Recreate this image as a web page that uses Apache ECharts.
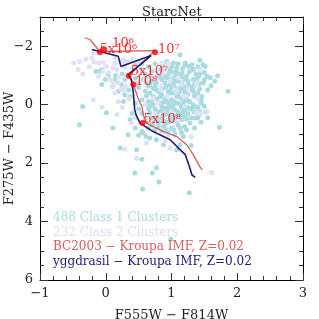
<!DOCTYPE html>
<html><head><meta charset="utf-8">
<script src="https://cdn.jsdelivr.net/npm/echarts@6/dist/echarts.min.js"></script>
<style>html,body{margin:0;padding:0;background:#fff}#c{width:319px;height:319px}</style>
</head><body><div id="c"></div>
<script>
const titleText = 'StarcNet';
const xName = 'F555W \u2212 F814W';
const yName = 'F275W \u2212 F435W';
const xMajor = [-1, 0, 1, 2, 3];
const xMinor = [-0.8,-0.6,-0.4,-0.2,0.2,0.4,0.6,0.8,1.2,1.4,1.6,1.8,2.2,2.4,2.6,2.8];
const yMajor = [-2, 0, 2, 4, 6];
const yMinor = [-2.5,-1.5,-1,-0.5,0.5,1,1.5,2.5,3,3.5,4.5,5,5.5];
const legendTexts = ['488 Class 1 Clusters','232 Class 2 Clusters','BC2003 \u2212 Kroupa IMF, Z=0.02','yggdrasil \u2212 Kroupa IMF, Z=0.02'];

const class1 = [
[-0.09,-1.14],[-0.01,-0.86],[0.04,-1.03],[0.14,-0.86],[0.11,-0.63],[-0.06,-0.69],[0.29,-0.86],[0.24,-0.69],[0.19,-0.46],[0.29,-0.34],
[0.27,-0.11],[0.37,-0.28],[0.55,-1.14],[0.57,-0.86],[0.62,-0.97],[0.67,-0.69],[0.60,-0.46],[0.72,-0.28],[0.77,-0.51],[0.65,-0.11],
[1.13,-1.71],[1.43,-1.52],[1.48,-1.37],[1.21,-1.43],[1.26,-1.31],[1.31,-1.20],[0.93,-1.48],[1.03,-1.43],[1.08,-1.26],[0.98,-1.20],
[1.16,-1.09],[1.43,-1.03],[1.59,-0.92],[1.70,-0.99],[1.66,-0.80],[1.48,-0.74],[1.43,-0.54],[1.33,-0.86],[1.26,-0.69],[1.33,-0.46],
[1.21,-0.40],[1.13,-0.57],[1.03,-0.74],[0.93,-0.92],[0.88,-0.57],[0.98,-0.40],[1.08,-0.28],[1.23,-0.17],[1.28,-0.11],[0.93,-0.11],
[1.86,-0.46],[0.88,-1.20],[1.05,-0.97],[1.21,-0.88],[1.16,-0.74],[1.54,-0.97],[1.31,-1.37],
[1.21,-1.37],[1.33,-1.20],[1.51,-1.31],[1.03,-1.09],[1.23,-0.97],[1.38,-0.86],[0.83,-1.20],[0.90,-0.97],[0.77,-0.74],[0.98,-0.69],
[1.16,-0.57],[1.31,-0.51],[1.46,-0.28],[0.67,-0.40],[0.83,-0.28],[1.00,-0.17],[1.18,-0.06],[1.33,0.00],[0.72,0.00],[0.90,0.11],
[0.55,-0.17],[0.65,-0.63],
[0.11,0.80],[0.34,1.03],[0.62,0.00],[0.83,-0.06],[0.93,0.17],[1.03,0.00],[1.16,0.11],[1.26,-0.11],[1.33,0.06],[0.67,0.28],
[0.77,0.40],[0.90,0.34],[1.03,0.40],[1.16,0.51],[1.28,0.63],[1.43,0.34],[0.72,0.63],[0.88,0.74],[1.00,0.80],[1.23,0.86],
[0.77,1.20],[0.88,1.37],[0.22,1.48],[0.47,1.54],[0.55,1.87],[0.77,2.16],[0.57,0.97],[0.37,0.51],[1.13,1.37],
[-0.35,0.06],[0.01,0.28],[-0.40,0.69],[0.44,2.34],[0.71,2.34],[0.55,0.92],[0.61,1.09],[0.67,1.14],
[0.81,2.65],[0.56,2.89],[1.27,3.01],[1.73,0.77],[1.43,0.28],
[0.93,0.11],[1.05,0.17],[1.17,0.28],[1.36,0.06],[1.43,0.23],[1.52,0.25],[1.23,0.48],[1.36,0.46],[1.08,0.57],[1.13,0.80],
[1.03,0.86],[1.18,1.09],[1.30,1.40],[1.08,1.54],[0.99,4.60],[-0.15,-1.14],[-0.06,-1.20],
[1.10,-1.05],[1.20,-0.60],[1.35,-0.70],[1.00,-0.55],[0.80,-0.45],[0.70,-0.80],[1.40,-0.40],[1.10,-0.30],[0.95,-0.05],[1.15,0.05],
[1.25,0.30],[0.85,0.45],[0.95,0.60],[1.10,0.70],[0.65,0.15],[0.80,0.25],[1.05,0.45],[0.75,0.85],[0.50,-0.60],[0.45,-0.90],
[0.45,-1.35],[0.55,-1.40],[0.65,-1.30],[0.75,-1.40],[0.70,-1.15],[0.60,-1.05],[0.80,-1.00],[0.85,-0.85],[0.75,-0.65],[0.62,-0.30],
[0.70,-0.10],[0.85,0.05],[1.00,0.10],[1.10,0.25],[1.20,0.20],[1.30,0.15],[1.40,0.10],[1.50,0.05],[1.45,-0.15],[1.55,-0.50],
[1.60,-0.65],[1.50,-1.10],[1.40,-1.30],[1.00,-1.30],[1.10,-1.40],[0.95,-1.00],[1.05,-0.85],[1.25,-0.80],[1.40,-0.95],[1.15,-0.95],
[1.10,-0.80],[1.00,-0.90],[0.90,-0.75],[0.85,-0.35],[0.95,-0.45],[1.05,-0.60],[1.20,-0.45],[1.35,-0.30],[1.25,-0.35],[1.15,-0.20],
[1.05,-0.10],[0.90,-0.20],[0.75,0.15],[0.85,0.20],[0.95,0.30],[1.15,0.35],[1.30,0.45],[1.00,0.55],[0.90,0.65],[0.80,0.60],
[0.70,0.45],[0.85,0.90],[0.95,0.95],[1.05,1.00],[0.65,0.80],[0.60,0.50],[0.55,0.30],[1.20,0.75],[1.35,0.80],[1.45,0.60],
[1.55,0.45],[0.50,0.15],[0.45,-0.05],
[0.62,-0.75],[0.72,-0.55],[0.82,-0.95],[0.92,-0.62],[1.02,-0.40],[1.12,-0.45],[1.22,-0.25],[1.32,-0.60],[1.42,-0.72],[1.50,-0.85],
[1.37,-1.05],[1.27,-1.12],[1.17,-1.25],[1.07,-1.15],[0.97,-1.10],[0.87,-1.35],[1.45,-0.05],[1.35,0.25],[1.25,0.10],[1.10,-0.05],
[0.98,0.00],[0.88,-0.10],[0.78,-0.20],[0.68,0.05],[0.78,0.50],[0.88,0.55],[0.98,0.45],[1.08,0.35],[1.20,0.40],[1.40,0.45],
[0.70,0.70],[0.80,0.75],[0.92,0.85],[1.15,0.95],[0.45,0.80],[0.50,1.05],[0.40,0.30],[0.35,-0.50],[0.25,-1.05],[0.15,-1.00]
];

const class2 = [
[-0.49,-1.43],[-0.40,-1.48],[-0.42,-1.20],[-0.35,-1.05],[-0.21,-1.60],[-0.19,-1.77],[-0.18,-1.45],[-0.11,-1.43],[-0.04,-1.45],[0.01,-1.31],
[0.14,-1.43],[0.11,-1.26],[0.22,-1.48],[0.27,-1.54],[0.34,-1.48],[0.29,-1.31],[0.06,-0.86],[0.19,-0.74],[0.24,-0.54],[0.14,-0.40],
[-0.19,-0.17],[-0.04,-1.14],[-0.11,-0.97],[0.32,-0.97],[0.42,-1.26],[0.50,-1.48],
[0.85,-1.43],[0.88,-1.09],[0.98,-0.80],[1.10,-0.92],[1.05,-0.51],[0.93,-0.28],[1.38,-0.74],[1.43,-1.20],[1.18,-0.28],
[0.14,-1.60],[0.17,-1.20],[0.29,-1.43],[0.11,-0.74],[0.27,-0.51],[0.19,-0.11],[0.77,-1.09],[0.95,-1.43],[1.08,-0.46],[1.23,-0.28],
[1.38,-0.63],[0.72,-0.23],[0.60,0.00],[0.83,-0.51],
[0.17,0.34],[0.39,0.63],[0.62,1.31],[0.47,1.83],[1.38,0.28],[1.54,0.23],[1.08,0.51],[0.95,1.03],
[-0.06,0.09],[0.29,1.52],[0.98,1.48],[1.61,2.32],[1.43,0.30],
[0.40,-1.55],[0.55,-1.20],[0.70,-1.00],[0.60,-0.85],[0.50,-0.75],[0.75,-0.90],[0.90,-1.20],[1.00,-1.00],[1.15,-0.70],[0.85,-0.65],
[1.25,-0.55],[1.40,-0.20],[0.80,-0.05],[1.00,0.25],[1.20,0.05],[0.05,-1.10],[0.20,-0.95],[-0.25,-1.30],[-0.30,-1.55],[0.10,-0.60],
[0.30,-0.65],[0.35,-0.20],[0.25,0.10],[0.45,0.45],[0.75,0.30],[1.30,1.10],[0.90,1.25]
];

const bc2003 = [
[-0.32,-2.29],[-0.24,-2.23],[-0.09,-1.82],[0.75,-1.85],[0.60,-1.54],[0.35,-0.99],[0.42,-0.69],[0.50,-0.17],[0.55,0.06],[0.57,0.34],
[0.62,0.63],[0.88,0.92],[1.08,1.09],[1.23,1.37],[1.33,1.71],[1.43,2.12],[1.47,2.23]
];

const yggdrasil = [
[-0.21,-1.89],[0.19,-1.66],[0.23,-1.31],[0.69,-1.68],[0.34,-1.03],[0.39,-0.86],[0.42,-0.40],[0.44,0.17],[0.46,0.34],[0.52,0.63],
[0.72,0.92],[0.98,1.20],[1.13,1.54],[1.21,1.71],[1.28,2.17],[1.31,2.40],[1.36,2.49]
];

const ageNames = ['10\u2076','5x10\u2076','10\u2077','5x10\u2077','10\u2078','5x10\u2078'];
const agePts = [[-0.04,-1.89],[-0.09,-1.79],[0.75,-1.79],[0.35,-0.99],[0.42,-0.69],[0.56,0.63]];

// styling only (label nudges in pixels)
const ageLabelNudge = [[5,-6],[-4,-3],[-1,-3],[-2,-4],[-2,-3],[-3,-3]];

const serif = 'DejaVu Serif';
const cCyan = '#a9dce0', cLav = '#e0e0f7', cRed = '#d45f5c', cNavy = '#1c1c78';

const minusFmt = v => String(v).replace('-', '\u2212');
function axisX(pos, major, show) {
  return {type:'value', min:-1, max:3, position:pos, offset:0,
    axisLine:{show:show, onZero:false, lineStyle:{color:'#000', width:1}},
    axisTick:{show:true, inside:true, length: major?7:4, customValues: major?xMajor:xMinor, lineStyle:{color:'#333'}},
    axisLabel:{show: major && pos==='bottom', customValues:xMajor, formatter:minusFmt, fontFamily:serif, fontSize:13, color:'#222', margin:7},
    splitLine:{show:false},
    name: (major && pos==='bottom') ? xName : '', nameLocation:'middle', nameGap:29, nameMoveOverlap:false,
    nameTextStyle:{fontFamily:serif, fontSize:13, color:'#222'}};
}
function axisY(pos, major, show) {
  return {type:'value', min:-3, max:6, inverse:true, position:pos, offset:0,
    axisLine:{show:show, onZero:false, lineStyle:{color:'#000', width:1}},
    axisTick:{show:true, inside:true, length: major?8:4, customValues: major?yMajor:yMinor, lineStyle:{color:'#333'}},
    axisLabel:{show: major && pos==='left', customValues:yMajor, formatter:minusFmt, fontFamily:serif, fontSize:13, color:'#222', margin:7},
    splitLine:{show:false},
    name: (major && pos==='left') ? yName : '', nameLocation:'middle', nameGap:24, nameRotate:90, nameMoveOverlap:false,
    nameTextStyle:{fontFamily:serif, fontSize:13, color:'#222'}};
}

const chart = echarts.init(document.getElementById('c'), null, {renderer:'canvas'});
const legendTop = 212, legendStep = 14.5;
const legendColors = [cCyan, '#dcdcf5', cRed, cNavy];
chart.setOption({
  animation:false,
  backgroundColor:'#fff',
  title:{text:titleText, left:137, top:1, textStyle:{fontFamily:serif, fontSize:13, fontWeight:'normal', color:'#222'}},
  grid:{left:40, right:16, top:17, bottom:39, containLabel:false, outerBoundsMode:'none'},
  xAxis:[axisX('bottom',true,true), axisX('bottom',false,false), axisX('top',true,true), axisX('top',false,false)],
  yAxis:[axisY('left',true,true), axisY('left',false,false), axisY('right',true,true), axisY('right',false,false)],
  series:[
    {type:'scatter', data:class1, symbolSize:5, itemStyle:{color:cCyan, opacity:1}, z:2},
    {type:'scatter', data:class2, symbolSize:5, itemStyle:{color:cLav, opacity:1}, z:3},
    {type:'line', data:bc2003, showSymbol:false, lineStyle:{color:cRed, width:1.3}, z:4},
    {type:'line', data:yggdrasil, showSymbol:false, lineStyle:{color:cNavy, width:1.6}, z:5},
    {type:'scatter', z:6, symbolSize:6, itemStyle:{color:'#ff0000'},
      data: agePts.map((p,i)=>({value:p, name:ageNames[i],
        label:{show:true, position:'right', distance:1, offset:ageLabelNudge[i], formatter:ageNames[i],
          color:'#ff0000', fontFamily:serif, fontSize:13}}))}
  ],
  graphic: legendTexts.map((t,i)=>({type:'text', left:53, top:legendTop + i*legendStep,
    style:{text:t, fill:legendColors[i], font:'12px "DejaVu Serif"'}, z:10}))
});
</script></body></html>
